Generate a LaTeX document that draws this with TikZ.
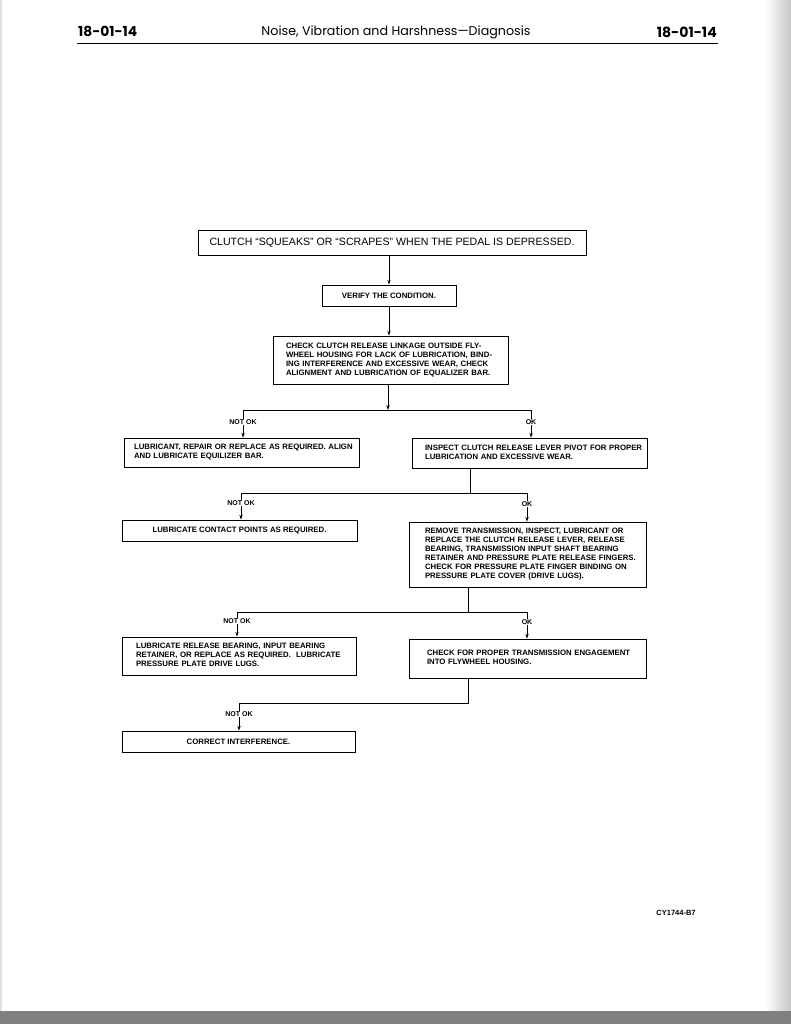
\documentclass[tikz,border=0pt]{standalone}
\usepackage{fontspec}
\setmainfont{Liberation Sans}
\newfontfamily\hdrfont{Poppins}
\usetikzlibrary{arrows.meta}
\newcommand{\boxlines}[1]{\begin{tabular}{@{}l@{}}#1\end{tabular}}
\begin{document}
\begin{tikzpicture}[x=1pt,y=-1pt,
  box/.style={draw, line width=0.7pt, inner ysep=0pt, font=\bfseries\fontsize{7.8}{9}\selectfont},
  lbox/.style={box, align=left},
  cbox/.style={box, align=center, inner xsep=0pt},
  arr/.style={-{Stealth[length=5pt,width=3.4pt]}, line width=0.7pt},
  ln/.style={line width=0.7pt},
  lbl/.style={font=\bfseries\fontsize{7}{7}\selectfont, fill=white, inner xsep=1pt, inner ysep=0.5pt}
]
\useasboundingbox (0,0) rectangle (791,1024);
\fill[white] (0,0) rectangle (791,1024);
% page edges
\shade[left color=white, right color=black!22] (765,0) rectangle (791,1012);
\fill[black!50] (0,1011) rectangle (791,1024);
\fill[black!12] (0,0) rectangle (2,1011);

% header
\node[font=\hdrfont\bfseries, anchor=west, inner sep=0pt] (hl) at (78,31) {\resizebox{59pt}{!}{18-01-14}};
\node[font=\hdrfont\bfseries, anchor=east, inner sep=0pt] (hr) at (717,32) {\resizebox{60pt}{!}{18-01-14}};
\node[font=\hdrfont, inner sep=0pt] (ht) at (396,32) {\resizebox{269pt}{!}{Noise, Vibration and Harshness—Diagnosis}};
\draw[line width=1pt] (77,44) -- (718,44);

% boxes
\node[cbox, minimum width=388pt, minimum height=25pt, font=\fontsize{10}{12}\selectfont] (b1) at (392,242.5)
  {\resizebox{365pt}{!}{CLUTCH “SQUEAKS” OR “SCRAPES” WHEN THE PEDAL IS DEPRESSED.}};
\node[cbox, minimum width=134pt, minimum height=21pt] (b2) at (389,295.5) {VERIFY THE CONDITION.};
\node[lbox, inner xsep=13pt, text width=209pt, minimum height=48pt] (b3) at (390.5,360)
  {\boxlines{CHECK CLUTCH RELEASE LINKAGE OUTSIDE FLY-\\WHEEL HOUSING FOR LACK OF LUBRICATION, BIND-\\ING INTERFERENCE AND EXCESSIVE WEAR, CHECK\\ALIGNMENT AND LUBRICATION OF EQUALIZER BAR.}};
\node[lbox, inner xsep=10pt, text width=215pt, minimum height=29pt] (b4) at (241.5,452.5)
  {\boxlines{LUBRICANT, REPAIR OR REPLACE AS REQUIRED. ALIGN\\AND LUBRICATE EQUILIZER BAR.}};
\node[lbox, inner xsep=13pt, text width=209pt, minimum height=30pt] (b5) at (529.5,453)
  {\boxlines{INSPECT CLUTCH RELEASE LEVER PIVOT FOR PROPER\\LUBRICATION AND EXCESSIVE WEAR.}};
\node[cbox, minimum width=235pt, minimum height=21pt] (b6) at (239.5,530.5) {LUBRICATE CONTACT POINTS AS REQUIRED.};
\node[lbox, inner xsep=16pt, text width=205pt, minimum height=65pt] (b7) at (527.5,554.5)
  {\boxlines{REMOVE TRANSMISSION, INSPECT, LUBRICANT OR\\REPLACE THE CLUTCH RELEASE LEVER, RELEASE\\BEARING, TRANSMISSION INPUT SHAFT BEARING\\RETAINER AND PRESSURE PLATE RELEASE FINGERS.\\CHECK FOR PRESSURE PLATE FINGER BINDING ON\\PRESSURE PLATE COVER (DRIVE LUGS).}};
\node[lbox, inner xsep=14pt, text width=206pt, minimum height=38pt] (b8) at (239,656)
  {\boxlines{LUBRICATE RELEASE BEARING, INPUT BEARING\\RETAINER, OR REPLACE AS REQUIRED.\ \ LUBRICATE\\PRESSURE PLATE DRIVE LUGS.}};
\node[lbox, inner xsep=18pt, text width=201pt, minimum height=39pt] (b9) at (527.5,658.5)
  {\boxlines{CHECK FOR PROPER TRANSMISSION ENGAGEMENT\\INTO FLYWHEEL HOUSING.}};
\node[cbox, minimum width=233pt, minimum height=21pt] (b10) at (238.5,741.5) {CORRECT INTERFERENCE.};

\node[font=\bfseries\fontsize{7.5}{8}\selectfont] (fig) at (676,913) {CY1744-B7};

% junction coordinates
\coordinate (j1) at (388,410);
\coordinate (l1) at (243,410);
\coordinate (r1) at (531,410);
\coordinate (j2) at (470,493);
\coordinate (l2) at (241,493);
\coordinate (r2) at (527,493);
\coordinate (j3) at (468,612);
\coordinate (l3) at (237,612);
\coordinate (r3) at (527,612);
\coordinate (j4) at (468,703);
\coordinate (l4) at (239,703);

% connectors
\draw[arr] (b2.north |- b1.south) -- (b2.north);
\draw[arr] (b2.south) -- (b2.south |- b3.north);
\draw[arr] (b3.south -| j1) -- (j1);
\draw[ln] (l1) -- (r1);
\draw[arr] (l1) -- (l1 |- b4.north);
\draw[arr] (r1) -- (r1 |- b5.north);
\node[lbl] (n1) at (243,422) {NOT OK};
\node[lbl] (o1) at (531,422) {OK};

\draw[ln] (b5.south -| j2) -- (j2);
\draw[ln] (l2) -- (r2);
\draw[arr] (l2) -- (l2 |- b6.north);
\draw[arr] (r2) -- (r2 |- b7.north);
\node[lbl] (n2) at (241,503) {NOT OK};
\node[lbl] (o2) at (527,504) {OK};

\draw[ln] (b7.south -| j3) -- (j3);
\draw[ln] (l3) -- (r3);
\draw[arr] (l3) -- (l3 |- b8.north);
\draw[arr] (r3) -- (r3 |- b9.north);
\node[lbl] (n3) at (237,621) {NOT OK};
\node[lbl] (o3) at (527,622) {OK};

\draw[ln] (b9.south -| j4) -- (j4) -- (l4);
\draw[arr] (l4) -- (l4 |- b10.north);
\node[lbl] (n4) at (239,714) {NOT OK};
\end{tikzpicture}
\end{document}
